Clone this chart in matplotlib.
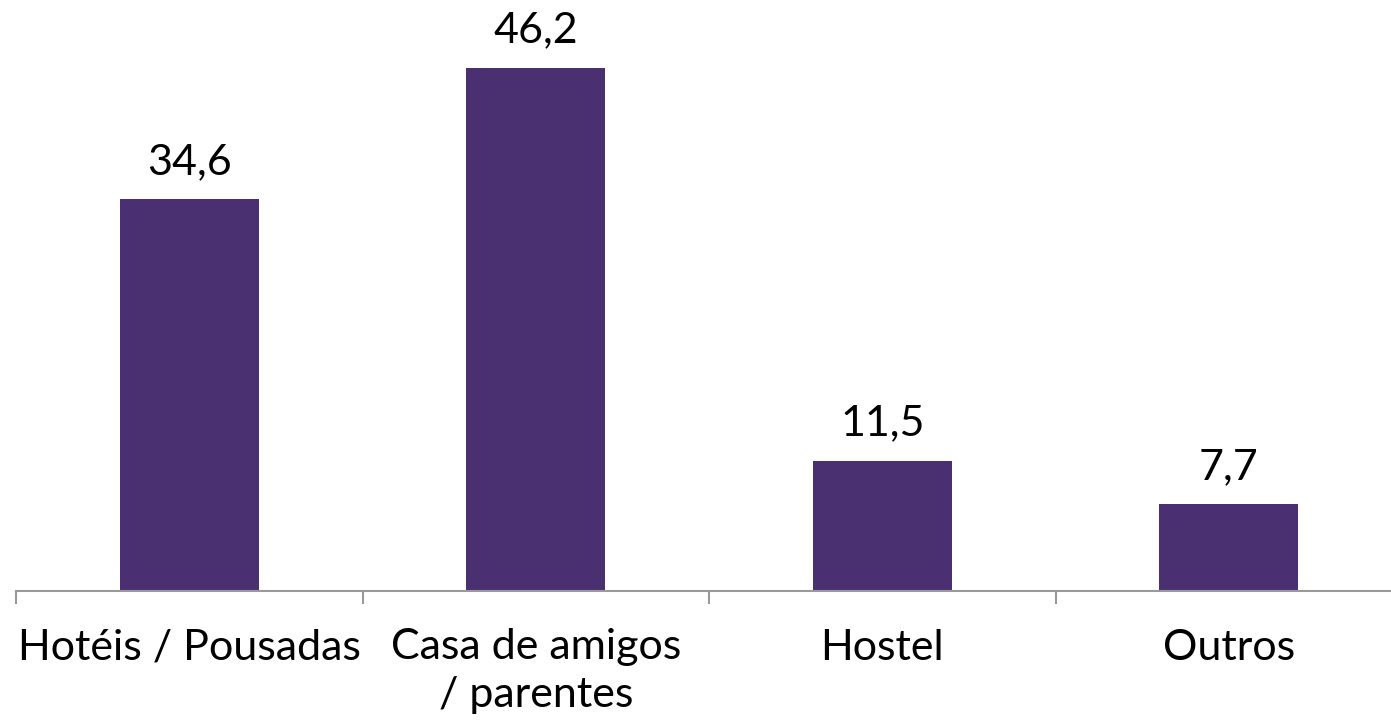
import matplotlib.pyplot as plt
import numpy as np

categorias = ["Hotéis / Pousadas", "Casa de amigos\n/ parentes", "Hostel", "Outros"]
valores = [34.6, 46.2, 11.5, 7.7]
rotulos = ["34,6", "46,2", "11,5", "7,7"]

plt.rcParams['font.family'] = ['Lato', 'DejaVu Sans']

fig = plt.figure(figsize=(13.91, 7.22), dpi=100)
# eixo: base em y=591px, de x=16px até além da borda direita
ax = fig.add_axes([16 / 1391, 1 - 591 / 722, 1386 / 1391, 591 / 722])

x = np.arange(len(categorias))
ax.bar(x, valores, width=0.4, color='#4A3070')

for xi, v, r in zip(x, valores, rotulos):
    ax.annotate(r, (xi, v), xytext=(0, 13), textcoords='offset points',
                ha='center', va='bottom', fontsize=31, color='black')

ax.set_xlim(-0.5, 3.5)
ax.set_ylim(0, 591 / 11.33)

for s in ['top', 'right', 'left']:
    ax.spines[s].set_visible(False)
ax.spines['bottom'].set_color('#999999')
ax.spines['bottom'].set_linewidth(1.5)

ax.set_yticks([])
ax.set_xticks(np.arange(-0.5, 4.0, 1.0), minor=False)
ax.set_xticklabels([])
ax.tick_params(axis='x', which='major', length=9, width=1.5, color='#999999')
ax.set_xticks(x, minor=True)
ax.set_xticklabels(categorias, minor=True, fontsize=31)
ax.tick_params(axis='x', which='minor', length=0, pad=27)
for lbl in ax.get_xticklabels(minor=True):
    lbl.set_linespacing(1.3)

fig.savefig('out.png', dpi=100)
